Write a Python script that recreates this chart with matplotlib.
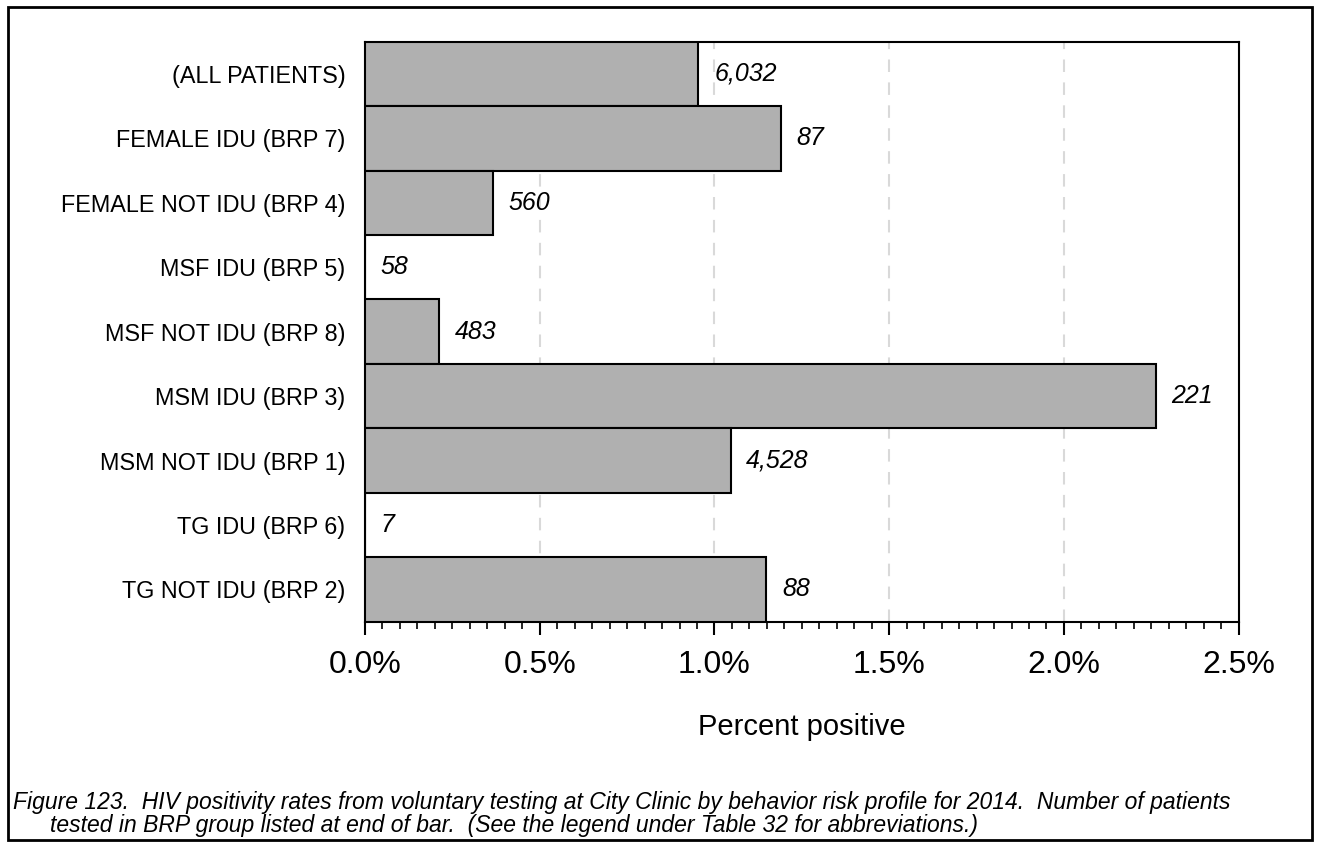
import matplotlib
matplotlib.use("Agg")
import matplotlib.pyplot as plt
from matplotlib.patches import Rectangle
from matplotlib.ticker import MultipleLocator, FuncFormatter

groups = ["(ALL PATIENTS)", "FEMALE IDU (BRP 7)", "FEMALE NOT IDU (BRP 4)",
          "MSF IDU (BRP 5)", "MSF NOT IDU (BRP 8)", "MSM IDU (BRP 3)",
          "MSM NOT IDU (BRP 1)", "TG IDU (BRP 6)", "TG NOT IDU (BRP 2)"]
pct_positive = [0.954, 1.189, 0.366, 0.0, 0.211, 2.262, 1.046, 0.0, 1.148]
n_tested = ["6,032", "87", "560", "58", "483", "221", "4,528", "7", "88"]

plt.rcParams['font.family'] = ['Liberation Sans', 'DejaVu Sans']

fig = plt.figure(figsize=(13.2, 8.47), dpi=100)
ax = fig.add_axes([0.2765, 0.266, 0.9384 - 0.2765, 0.9508 - 0.266])

ypos = list(range(len(groups)))
ax.barh(ypos, pct_positive, height=1.0, color='#b0b0b0', edgecolor='black',
        linewidth=1.5, zorder=3)

for y, v, n in zip(ypos, pct_positive, n_tested):
    ax.text(v + 0.045, y, n, va='center', ha='left', fontsize=18,
            style='italic', zorder=4)

ax.set_ylim(len(groups) - 0.5, -0.5)
ax.set_yticks(ypos)
ax.set_yticklabels(groups, fontsize=16.8)
ax.tick_params(axis='y', length=0, pad=14)

ax.set_xlim(0, 2.5)
ax.xaxis.set_major_locator(MultipleLocator(0.5))
ax.xaxis.set_minor_locator(MultipleLocator(0.05))
ax.xaxis.set_major_formatter(FuncFormatter(lambda v, p: f"{v:.1f}%"))
ax.tick_params(axis='x', which='major', length=9.4, width=1.5, direction='out',
               labelsize=23, pad=11)
ax.tick_params(axis='x', which='minor', length=5, width=1.2, direction='out')
ax.set_xlabel("Percent positive", fontsize=21, labelpad=24)

ax.grid(axis='x', which='major', color='#d9d9d9', linestyle=(0, (6, 5)),
        linewidth=1.5, zorder=0)
for s in ax.spines.values():
    s.set_linewidth(1.5)

# outer frame around the whole figure
fig.patches.append(Rectangle((8 / 1320, 7 / 847), 1304 / 1320, 833 / 847,
                             transform=fig.transFigure, fill=False,
                             edgecolor='black', linewidth=2))

# caption, two lines with hanging indent
fig.text(13 / 1320, 1 - 802 / 847,
         "Figure 123.  HIV positivity rates from voluntary testing at City Clinic by "
         "behavior risk profile for 2014.  Number of patients",
         fontsize=16.5, style='italic', va='center', ha='left')
fig.text(50 / 1320, 1 - 825 / 847,
         "tested in BRP group listed at end of bar.  (See the legend under Table 32 "
         "for abbreviations.)",
         fontsize=16.5, style='italic', va='center', ha='left')

fig.savefig("out.png", dpi=100)
